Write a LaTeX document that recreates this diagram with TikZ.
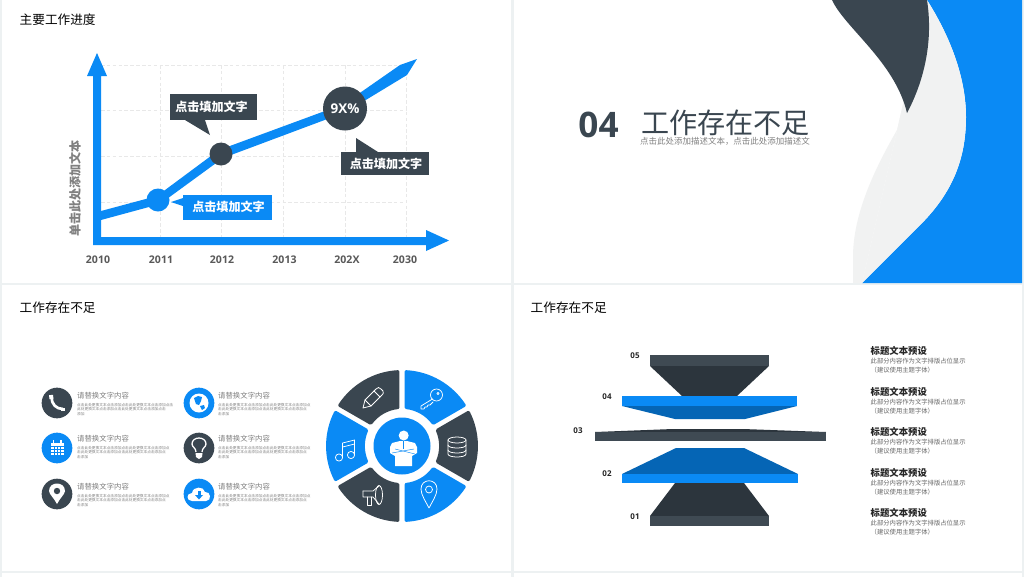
\documentclass[tikz,border=0pt]{standalone}
\usepackage{fontspec}
\usepackage{xcolor}
\setmainfont{Noto Sans CJK SC}
\newfontfamily\numfont{Open Sans}
\definecolor{skyblue}{HTML}{0A8AF5}
\definecolor{deepblue}{HTML}{0565B5}
\definecolor{slate}{HTML}{3A4650}
\definecolor{darkslate}{HTML}{2C353D}
\definecolor{bandslate}{HTML}{3F4A53}
\definecolor{panelgap}{HTML}{EDF1F2}
\definecolor{softgray}{HTML}{F1F2F2}
\tikzset{
  heading/.style={anchor=west,inner sep=0pt,font=\fontsize{10.8pt}{12pt}\selectfont,text=black},
  callout/.style={inner sep=0pt,text=white,font=\fontsize{10.3pt}{12pt}\selectfont\bfseries},
  yearlabel/.style={inner sep=0pt,text=black!65,font=\numfont\fontsize{9pt}{11pt}\selectfont\bfseries},
  itemtitle/.style={anchor=west,inner sep=0pt,text=black!50,font=\fontsize{6.3pt}{8pt}\selectfont},
  itembody/.style={anchor=north west,inner sep=0pt,align=left,text=black!50,font=\fontsize{3.15pt}{3.95pt}\selectfont},
  rowtitle/.style={anchor=west,inner sep=0pt,text=black!85,font=\fontsize{8pt}{10pt}\selectfont\bfseries},
  rowbody/.style={anchor=north west,inner sep=0pt,align=left,text=black!60,font=\fontsize{5.4pt}{7.7pt}\selectfont},
  stepno/.style={inner sep=0pt,text=black!85,font=\numfont\fontsize{6.8pt}{8pt}\selectfont\bfseries},
  iconline/.style={draw=white,line width=0.65pt,line join=round,line cap=round},
}
\newcommand{\itemtext}{点击此处更换文本点击添加点击此处更换文本点击添加点\\击此处更换文本点击添加点击此处更换文本点击添加点\\击添加}
\newcommand{\itemtextlong}{点击此处更换文本点击添加点击此处更换文本点击添加点击\\此处更换文本点击添加点击此处更换文本点击添加点击\\添加}
\begin{document}
\begin{tikzpicture}[x=0.03cm, y=-0.03cm, >=latex]
\useasboundingbox (0,0) rectangle (1024,577);
\fill[panelgap] (0,0) rectangle (1024,577);
\fill[white] (2,0) rectangle (511,283);
\fill[white] (514,0) rectangle (1022,283);
\fill[white] (2,285) rectangle (511,571);
\fill[white] (514,285) rectangle (1022,571);
\fill[white] (2,573) rectangle (511,577);
\fill[white] (514,573) rectangle (1022,577);

%Progress
\begin{scope}
  \node[heading] (progress) at (19.5, 19.7) {主要工作进度};
  \foreach \y in {65,110,156,202} {
    \draw[black!9, densely dashed, line width=0.4pt] (101, \y) -- (407, \y);
  }
  \foreach \x in {160,221,283,345,406} {
    \draw[black!9, densely dashed, line width=0.4pt] (\x, 65) -- (\x, 237);
  }
  \fill[skyblue] (93, 245) -- (93, 76) -- (87, 76) -- (97, 53) -- (107, 76) -- (101, 76)
    -- (101, 237) -- (426, 237) -- (426, 230) -- (449, 240.5) -- (426, 251) -- (426, 245) -- cycle;
  \fill[skyblue] (101, 211) -- (157, 196) -- (219, 150) -- (344, 104) -- (400, 65) -- (417, 59)
    -- (407, 75) -- (346, 112) -- (223, 158) -- (160, 204) -- (101, 220) -- cycle;

  \node[circle, fill=skyblue, inner sep=0pt, minimum size=0.69cm] (dotone) at (158, 200) {};
  \node[circle, fill=slate, inner sep=0pt, minimum size=0.69cm] (dottwo) at (221, 154) {};
  \node[circle, fill=slate, inner sep=0pt, minimum size=1.32cm, text=white,
    font=\numfont\fontsize{11.5pt}{13pt}\selectfont\bfseries] (dotthree) at (345, 108.5) {9X\%};

  \fill[slate] (170, 94) rectangle (257, 120);
  \fill[slate] (185, 120) -- (210, 135) -- (205, 120) -- cycle;
  \node[callout] (noteone) at (211.5, 106.6) {点击填加文字};
  \fill[slate] (341, 152) rectangle (429, 175);
  \fill[slate] (356, 152) -- (356, 138) -- (378, 152) -- cycle;
  \node[callout] (notetwo) at (386, 164.1) {点击填加文字};
  \fill[skyblue] (183, 195) rectangle (272, 220);
  \fill[skyblue] (183, 198) -- (171, 202) -- (183, 206) -- cycle;
  \node[callout] (notethree) at (228.5, 206.6) {点击填加文字};

  \node[rotate=90, inner sep=0pt, text=black!50, font=\fontsize{10.3pt}{12pt}\selectfont\bfseries]
    (yname) at (75, 188.5) {单击此处添加文本};

  \node[yearlabel] (yeara) at (98, 260) {2010};
  \node[yearlabel] (yearb) at (161, 260) {2011};
  \node[yearlabel] (yearc) at (222, 260) {2012};
  \node[yearlabel] (yeard) at (284.5, 260) {2013};
  \node[yearlabel] (yeare) at (347, 260) {202X};
  \node[yearlabel] (yearf) at (405, 260) {2030};
\end{scope}

%Section
\begin{scope}
  \fill[softgray] (907, 113) .. controls (885, 150) and (853, 205) .. (853, 257) -- (853, 283)
    -- (862, 283) -- (927, 0) -- cycle;
  \fill[skyblue] (927, 0) -- (1022, 0) -- (1022, 283) -- (862, 283) -- (925, 220)
    .. controls (955, 188) and (966, 155) .. (966, 117)
    .. controls (966, 75) and (948, 33) .. (927, 0) -- cycle;
  \fill[softgray] (862, 283) -- (925, 220)
    .. controls (955, 188) and (966, 155) .. (966, 117)
    .. controls (966, 75) and (948, 33) .. (927, 0) -- cycle;
  \fill[slate] (832, 0) .. controls (845, 28) and (895, 62) .. (907, 113)
    .. controls (922, 85) and (934, 45) .. (927, 0) -- cycle;
  \node[inner sep=0pt, text=slate, font=\numfont\fontsize{30pt}{34pt}\selectfont\bfseries]
    (secno) at (598.5, 125) {04};
  \node[inner sep=0pt, text=slate, font=\fontsize{24pt}{28pt}\selectfont] (secname) at (725.5, 122.5) {工作存在不足};
  \node[inner sep=0pt, text=black!50, font=\fontsize{7.25pt}{9pt}\selectfont] (secnote) at (725, 141.5)
    {点击此处添加描述文本，点击此处添加描述文};
\end{scope}

%Items
\begin{scope}
  \node[heading] (itemshead) at (19.5, 307.7) {工作存在不足};

  \node[circle, fill=slate, inner sep=0pt, minimum size=0.92cm] (phone) at (57, 403) {};
  \node[circle, fill=skyblue, inner sep=0pt, minimum size=0.92cm] (globe) at (199, 403) {};
  \node[circle, fill=skyblue, inner sep=0pt, minimum size=0.92cm] (calendar) at (57, 448) {};
  \node[circle, fill=slate, inner sep=0pt, minimum size=0.92cm] (bulb) at (199, 448) {};
  \node[circle, fill=slate, inner sep=0pt, minimum size=0.92cm] (place) at (57, 494) {};
  \node[circle, fill=skyblue, inner sep=0pt, minimum size=0.92cm] (cloud) at (199, 494) {};

  \begin{scope}[shift={(phone)}]
    \draw[white, line width=2.3pt] (-5.5, -6) .. controls (-5.5, 1) and (-1, 6) .. (6, 6);
    \draw[white, line width=3.4pt] (-6, -8) -- (-5.5, -4);
    \draw[white, line width=3.4pt] (4, 6.5) -- (8, 6.5);
  \end{scope}
  \begin{scope}[shift={(globe)}]
    \fill[white] (0, 0) circle (9.5);
    \fill[skyblue] (-5, -5) -- (-1, -7) -- (3, -6) -- (2, -2) -- (0, 2) -- (-3, 1) -- cycle;
    \fill[skyblue] (1, 3) -- (5, 2) -- (6, 5) -- (3, 7) -- cycle;
  \end{scope}
  \begin{scope}[shift={(calendar)}]
    \fill[white] (-6.5, -5.5) rectangle (7, 7);
    \foreach \i in {-3,0.25,3.5} {
      \draw[skyblue, line width=0.4pt] (\i, -2) -- (\i, 7);
    }
    \foreach \i in {-2,1,4} {
      \draw[skyblue, line width=0.4pt] (-6.5, \i) -- (7, \i);
    }
    \draw[white, line width=1pt] (-3.5, -8) -- (-3.5, -5);
    \draw[white, line width=1pt] (4, -8) -- (4, -5);
  \end{scope}
  \begin{scope}[shift={(bulb)}]
    \draw[white, line width=1.1pt] (-3, 4) .. controls (-3, 0) and (-7, -1) .. (-7, -4)
      .. controls (-7, -12) and (7, -12) .. (7, -4) .. controls (7, -1) and (3, 0) .. (3, 4);
    \fill[white] (-3.5, 5) -- (3.5, 5) -- (3, 9) -- (0, 11) -- (-3, 9) -- cycle;
  \end{scope}
  \begin{scope}[shift={(place)}]
    \fill[white] (0, 10) .. controls (-3, 4) and (-8, 0) .. (-8, -3)
      .. controls (-8, -13) and (8, -13) .. (8, -3) .. controls (8, 0) and (3, 4) .. (0, 10) -- cycle;
    \fill[slate] (0, -3) circle (3.2);
  \end{scope}
  \begin{scope}[shift={(cloud)}]
    \fill[white] (-7, 7) .. controls (-13, 7) and (-13, -1) .. (-7, -1)
      .. controls (-6, -8) and (5, -8) .. (6, -2) .. controls (12, -3) and (13, 7) .. (7, 7) -- cycle;
    \fill[skyblue] (-1.5, -3) rectangle (1.5, 1);
    \fill[skyblue] (-4, 1) -- (4, 1) -- (0, 5.5) -- cycle;
  \end{scope}

  \foreach \x/\y/\n in {77/395.7/a,218/395.7/b,77/438.7/c,218/438.7/d,77/486.7/e,218/486.7/f} {
    \node[itemtitle] (title\n) at (\x, \y) {请替换文字内容};
  }
  \node[itembody] (bodya) at (77, 403) {\itemtextlong};
  \foreach \x/\y/\n in {218/403/b,77/446/c,218/446/d,77/494/e,218/494/f} {
    \node[itembody] (body\n) at (\x, \y) {\itemtext};
  }

  % wheel is drawn with y going up, angles as usual
  \begin{scope}[shift={(402, 446)}, y=0.03cm]
    \foreach \a/\c in {60/skyblue,120/slate,180/skyblue,240/slate,300/skyblue,0/slate} {
      \filldraw[fill=\c, draw=\c, line width=3pt, line join=round]
        (\a-23.7:38.9) -- (\a-26.7:74.2) arc[start angle=\a-26.7, end angle=\a+26.7, radius=74.2]
        -- (\a+23.7:38.9) arc[start angle=\a+23.7, end angle=\a-23.7, radius=38.9] -- cycle;
    }
    \fill[skyblue] (0, 0) circle (28.5);
  \end{scope}

  \begin{scope}[shift={(402, 446)}]
    \fill[white] (1.7, -10.5) circle (5);
    \fill[white] (-12, 1) -- (-10, -3) -- (-2, -5) -- (5, -5) -- (13, -3) -- (15, 1)
      -- (15, 7) -- (10, 10) -- (10, 20) -- (-7, 20) -- (-7, 10) -- (-12, 7) -- cycle;
    \draw[skyblue, line width=0.4pt] (-10, 7) -- (12, 3);
    \draw[skyblue, line width=0.4pt] (-7, 3) -- (13, 8);
    \draw[skyblue, line width=0.6pt] (1.5, -5) -- (1.5, 3);
  \end{scope}

  \begin{scope}[shift={(373, 398)}]
    \draw[iconline] (-10, 10) -- (-8, 2) -- (3, -9) .. controls (5, -11) and (6, -11) .. (8, -9)
      -- (10, -7) .. controls (11, -5) and (10, -4) .. (9, -3) -- (-2, 8) -- cycle;
    \draw[iconline] (-8, 2) -- (-2, 8);
    \draw[iconline] (1, -7) -- (7, -1);
  \end{scope}
  \begin{scope}[shift={(432, 400)}]
    \draw[iconline] (4.5, -5) circle (6);
    \draw[iconline] (6, -6.5) circle (1.2);
    \draw[iconline] (0.5, -1) -- (-11, 6) -- (-11, 9) -- (-8, 9) -- (-7, 7) -- (-5, 7) -- (-4, 5)
      -- (-2, 5) -- (1, 2);
  \end{scope}
  \begin{scope}[shift={(457, 447)}]
    \draw[iconline] (0, -7) ellipse (9 and 3);
    \draw[iconline] (-9, -7) -- (-9, 7) .. controls (-9, 11) and (9, 11) .. (9, 7) -- (9, -7);
    \draw[iconline] (-9, -2) .. controls (-9, 2) and (9, 2) .. (9, -2);
    \draw[iconline] (-9, 3) .. controls (-9, 7) and (9, 7) .. (9, 3);
  \end{scope}
  \begin{scope}[shift={(429, 493)}]
    \draw[iconline] (0, 15) .. controls (-3, 9) and (-8, 2) .. (-8, -4)
      .. controls (-8, -15) and (8, -15) .. (8, -4) .. controls (8, 2) and (3, 9) .. (0, 15) -- cycle;
    \draw[iconline] (0, -3.5) circle (3.5);
  \end{scope}
  \begin{scope}[shift={(373, 495)}]
    \draw[iconline] (-10, -4) -- (0, -4) -- (6, -9);
    \draw[iconline] (-10, -4) -- (-10, 2) -- (0, 2) -- (6, 9);
    \draw[iconline] (6, 0) ellipse (3.5 and 9.5);
    \draw[iconline] (-6, 2) -- (-6, 10) -- (-2, 10) -- (-2, 2);
  \end{scope}
  \begin{scope}[shift={(346, 450)}]
    \draw[iconline] (-7, 7.5) circle (3.6);
    \draw[iconline] (5, 5) circle (3.6);
    \draw[iconline] (-3.4, 7.5) -- (-3.4, -7) -- (8.6, -10) -- (8.6, 5);
    \draw[iconline] (-3.4, -3) -- (8.6, -6);
  \end{scope}
\end{scope}

%Hourglass
\begin{scope}
  \node[heading] (stackhead) at (530.5, 307.7) {工作存在不足};
  \fill[bandslate] (650, 355) rectangle (769, 366);
  \fill[darkslate] (650, 366) -- (769, 366) -- (737, 396) -- (682, 396) -- cycle;
  \fill[deepblue] (622, 406) -- (797, 406) -- (745, 419) -- (675, 419) -- cycle;
  \fill[skyblue] (622, 396) rectangle (797, 406);
  \fill[darkslate] (595, 432) -- (826, 432) -- (743, 429) -- (673, 429) -- cycle;
  \fill[bandslate] (595, 432) rectangle (826, 441);
  \fill[deepblue] (676, 448) -- (744, 448) -- (798, 474) -- (622, 474) -- cycle;
  \fill[skyblue] (622, 474) rectangle (798, 483);
  \fill[darkslate] (675, 483) -- (744, 483) -- (769, 516) -- (650, 516) -- cycle;
  \fill[bandslate] (650, 516) rectangle (769, 526);

  \node[stepno] (stepe) at (635, 356) {05};
  \node[stepno] (stepd) at (607, 397) {04};
  \node[stepno] (stepc) at (578, 431) {03};
  \node[stepno] (stepb) at (607, 474) {02};
  \node[stepno] (stepa) at (635, 517) {01};

  \foreach \y/\n in {351.2/a,392.2/b,432.2/c,473.2/d,513.2/e} {
    \node[rowtitle] (row\n) at (870.5, \y) {标题文本预设};
    \node[rowbody] (rowtext\n) at (870.5, \y+7) {此部分内容作为文字排版占位显示\\（建议使用主题字体）};
  }
\end{scope}
\end{tikzpicture}
\end{document}
